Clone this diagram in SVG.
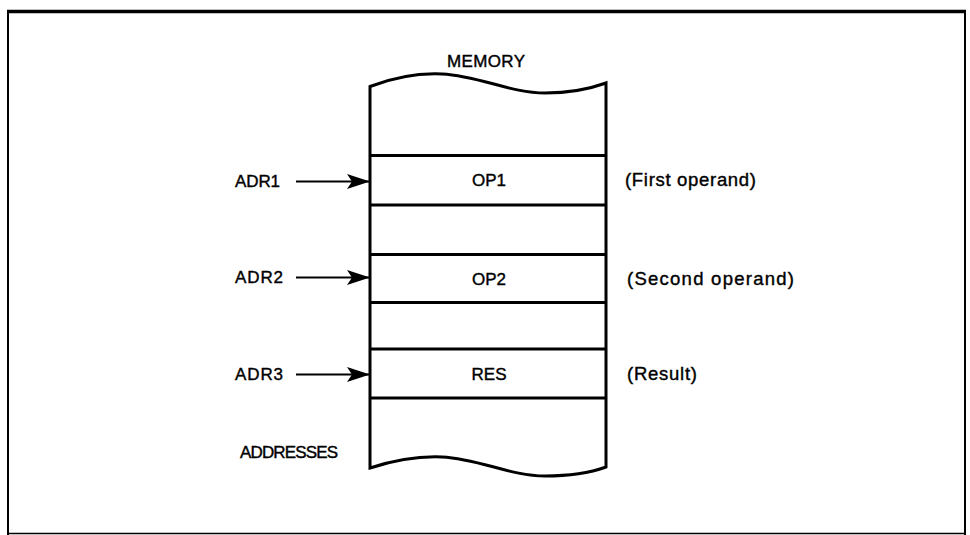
<svg xmlns="http://www.w3.org/2000/svg" width="970" height="535" viewBox="0 0 970 535">
<style>
.t{font-family:"Liberation Sans",Arial,sans-serif;font-size:17px;fill:#000;stroke:#000;stroke-width:0.4}
.l{font-size:18.5px}
.c{text-anchor:middle}
.ln{stroke:#000;stroke-width:3;fill:none}
.ar{stroke:#000;stroke-width:2;fill:none}
</style>
<defs>
<marker id="ah" markerWidth="23" markerHeight="15" refX="22" refY="7.5" orient="auto" markerUnits="userSpaceOnUse">
<path d="M0,0 L23,7.5 L0,15 L5,7.5 Z" fill="#000"/>
</marker>
</defs>
<rect width="970" height="535" fill="#fff"/>
<g id="frame">
<line x1="7" y1="11.5" x2="966" y2="11.5" stroke="#000" stroke-width="3.5"/>
<line x1="8" y1="11" x2="8" y2="535" stroke="#000" stroke-width="2"/>
<line x1="965" y1="11" x2="965" y2="535" stroke="#000" stroke-width="2"/>
<line x1="7" y1="533.5" x2="966" y2="533.5" stroke="#000" stroke-width="1.5"/>
</g>
<g id="memory">
<path class="ln" d="M370,86.5 C395,77 420,73 442,74 C480,76 510,93 545,93 C575,93 595,87 606,83 L606,467 C595,471 575,476 545,476 C510,476 480,459 442,457 C418,456 395,460 370,468 Z"/>
<line class="ln" x1="370" y1="155.5" x2="606" y2="155.5"/>
<line class="ln" x1="370" y1="205" x2="606" y2="205"/>
<line class="ln" x1="370" y1="254.5" x2="606" y2="254.5"/>
<line class="ln" x1="370" y1="302.5" x2="606" y2="302.5"/>
<line class="ln" x1="370" y1="349" x2="606" y2="349"/>
<line class="ln" x1="370" y1="398" x2="606" y2="398"/>
<text class="t c" x="486" y="67" textLength="78">MEMORY</text>
</g>
<g id="op1">
<text class="t c" x="489" y="186">OP1</text>
<text class="t l" x="625" y="186" textLength="131">(First operand)</text>
</g>
<g id="op2">
<text class="t c" x="489" y="285">OP2</text>
<text class="t l" x="627" y="285" textLength="167">(Second operand)</text>
</g>
<g id="res">
<text class="t c" x="489" y="380">RES</text>
<text class="t l" x="627" y="380" textLength="70">(Result)</text>
</g>
<g id="labels">
<text class="t" x="235" y="187" textLength="45">ADR1</text>
<text class="t" x="235" y="283" textLength="48">ADR2</text>
<text class="t" x="235" y="380" textLength="48">ADR3</text>
<text class="t" x="240" y="458" textLength="98">ADDRESSES</text>
</g>
<g id="connectors">
<line class="ar" x1="296" y1="181.5" x2="369" y2="181.5" marker-end="url(#ah)"/>
<line class="ar" x1="296" y1="277.5" x2="369" y2="277.5" marker-end="url(#ah)"/>
<line class="ar" x1="296" y1="374.5" x2="369" y2="374.5" marker-end="url(#ah)"/>
</g>
</svg>
